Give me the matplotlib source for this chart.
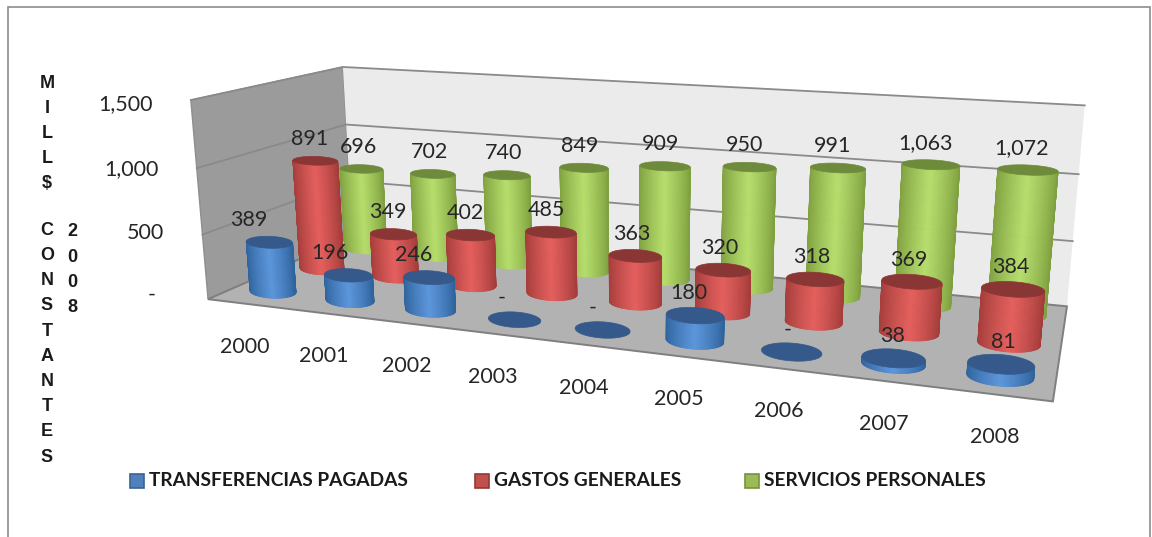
#!/usr/bin/env python3
"""Cylinder chart in 3D perspective, drawn on one pixel-sized 2D axes."""

import matplotlib
matplotlib.use("Agg")
import matplotlib.pyplot as plt
import numpy as np
from matplotlib.colors import to_rgb
from matplotlib.patches import Polygon, Rectangle

WIDTH, HEIGHT = 1152, 537

YEARS = ["2000", "2001", "2002", "2003", "2004", "2005", "2006", "2007", "2008"]
TRANSFERENCIAS = [389, 196, 246, 0, 0, 180, 0, 38, 81]
GASTOS = [891, 349, 402, 485, 363, 320, 318, 369, 384]
SERVICIOS = [696, 702, 740, 849, 909, 950, 991, 1063, 1072]
Y_TICKS = [0, 500, 1000, 1500]
Y_TICK_LABELS = ["-", "500", "1,000", "1,500"]
AXIS_TITLE_1 = "MILL$ CONSTANTES"
AXIS_TITLE_2 = "2008"

# (light, edge, top)
BLUE = ("#5c96dc", "#2f639c", "#34598a")
RED = ("#e55f5d", "#a33d3b", "#8a3634")
GREEN = ("#b6de6c", "#7fa040", "#6e8b3c")

# world (category, row, value) -> pixel, panel corners and gridline ends
CALIB = [
    ((0, 0, 0), (208, 297)), ((0, 0, 500), (203, 233)),
    ((0, 0, 1000), (197, 168)), ((0, 0, 1500), (190, 102)),
    ((0, 3, 0), (352, 240)), ((0, 3, 500), (349, 181)),
    ((0, 3, 1000), (347, 123)), ((0, 3, 1500), (343, 66)),
    ((9, 3, 0), (1067, 303)), ((9, 3, 500), (1073, 241)),
    ((9, 3, 1000), (1078, 175)), ((9, 3, 1500), (1085, 106)),
    ((9, 0, 0), (1053, 404)),
]

RX, RY = 0.305, 0.28


def fit_camera(calib):
    rows, rhs = [], []
    for (x, y, z), (u, v) in calib:
        z = z / 500.0
        rows.append([x, y, z, 1, 0, 0, 0, 0, -u * x, -u * y, -u * z])
        rows.append([0, 0, 0, 0, x, y, z, 1, -v * x, -v * y, -v * z])
        rhs += [u, v]
    sol = np.linalg.lstsq(np.array(rows, float), np.array(rhs, float), rcond=None)[0]
    return np.append(sol, 1.0).reshape(3, 4)


CAM = fit_camera(CALIB)


def project(x, y, z):
    x, y, z = np.broadcast_arrays(x, y, np.asarray(z, float) / 500.0)
    w = np.stack([x, y, z, np.ones_like(x)], axis=0).astype(float)
    p = CAM @ w
    return p[0] / p[2], p[1] / p[2]


def ring(cx, cy):
    """World offsets of a ring that looks upright on the page, the way Excel draws it."""
    xvec = np.subtract(project(cx + 0.5, cy, 0), project(cx - 0.5, cy, 0))
    yvec = np.subtract(project(cx, cy + 0.5, 0), project(cx, cy - 0.5, 0))
    jac = np.column_stack([xvec, yvec])
    tilt = 0.3 + 0.4 * cx / 9
    a = np.array([RX * xvec[0], RX * xvec[1] * tilt])
    b = np.array([0.0, RY * yvec[1]])
    t = np.linspace(0, 2 * np.pi, 181)
    offs = np.linalg.solve(jac, np.outer(a, np.cos(t)) + np.outer(b, np.sin(t)))
    return cx + offs[0], cy + offs[1]


def panel(ax, corners, color, z=1, ec="#8f8f8f", lw=1.0):
    pts = np.array([project(*c) for c in corners])
    ax.add_patch(Polygon(pts, closed=True, fc=color, ec=ec, lw=lw, zorder=z))


def cylinder(ax, cx, cy, value, colors, z):
    light, edge, top = colors
    xs, ys = ring(cx, cy)
    bu, bv = project(xs, ys, 0)
    tu, tv = project(xs, ys, value)
    if value > 0:
        i0, i1 = np.argmin(bu[:-1]), np.argmax(bu[:-1])
        a, b = sorted((i0, i1))
        # the near arc is the one holding the lowest pixels
        if bv[(a + b) // 2] > bv[(a + b + 180) // 2 % 180]:
            arc = np.arange(a, b + 1)
        else:
            arc = np.r_[b:180, 0:a + 1]
        lo, hi = bu[i0], bu[i1]
        for k0, k1 in zip(arc[:-1], arc[1:]):
            f = ((bu[k0] + bu[k1]) / 2 - lo) / (hi - lo)
            s = np.clip(1 - abs(f - 0.5) * 2, 0, 1) ** 0.8
            col = np.array(to_rgb(edge)) * (1 - s) + np.array(to_rgb(light)) * s
            quad = [(bu[k0], bv[k0]), (bu[k1], bv[k1]), (tu[k1], tv[k1]), (tu[k0], tv[k0])]
            ax.add_patch(Polygon(quad, closed=True, fc=col, ec=col, lw=0.5, zorder=z))
    ax.add_patch(Polygon(np.c_[tu, tv], closed=True, fc=top, ec=top, lw=0.5, zorder=z + 0.1))


def main():
    plt.rcParams["font.family"] = ["Lato", "DejaVu Sans"]
    fig = plt.figure(figsize=(WIDTH / 100, HEIGHT / 100), dpi=100, facecolor="white")
    ax = fig.add_axes([0, 0, 1, 1])
    ax.set_xlim(0, WIDTH)
    ax.set_ylim(HEIGHT, 0)
    ax.axis("off")

    # outer frame
    ax.add_patch(Rectangle((8, 7), 1142, 560, fc="white", ec="#8c8c8c", lw=1.2, zorder=0))

    n = len(YEARS)
    top = Y_TICKS[-1]
    panel(ax, [(0, 0, 0), (0, 3, 0), (0, 3, top), (0, 0, top)], "#9b9b9b")
    panel(ax, [(0, 3, 0), (n, 3, 0), (n, 3, top), (0, 3, top)], "#ebebeb", ec="none")
    panel(ax, [(0, 0, 0), (n, 0, 0), (n, 3, 0), (0, 3, 0)], "#b2b2b2", z=1.5, ec="#7f7f7f", lw=1.4)

    for v in Y_TICKS[1:]:
        u, w = project([0, 0, n], [0, 3, 3], v)
        ax.plot(u, w, color="#8a8a8a", lw=1.3, zorder=1.2)

    series = [(2.5, SERVICIOS, GREEN), (1.5, GASTOS, RED), (0.5, TRANSFERENCIAS, BLUE)]
    for rank, (row, values, colors) in enumerate(series):
        for i, v in enumerate(values):
            cylinder(ax, i + 0.5, row, v, colors, 2 + rank + i * 0.01)

    # data labels, a little left of the cylinder on the far side of the chart
    for row, values, _ in series:
        for i, v in enumerate(values):
            u, w = project(i + 0.5, row, v)
            drift = {0.5: -21 + 23 * i / 8, 1.5: -6 + 4 * i / 8, 2.5: -3 - 3 * i / 8}[row]
            txt = "-" if v == 0 else f"{v:,}"
            ax.text(u + drift, w - 22, txt, fontsize=15.5, color="#262626",
                    ha="center", va="center", zorder=10)

    for i, year in enumerate(YEARS):
        u, w = project(i + 0.5, 0, 0)
        ax.text(u - 1, w + 43, year, fontsize=15.5, color="#262626",
                ha="center", va="center", zorder=10)

    for v, label in zip(Y_TICKS, Y_TICK_LABELS):
        u, w = project(0, 0, v)
        dx = -52 if v == 0 else -38
        ax.text(u + dx, w - 5 + 9 * v / 1500, label, fontsize=15.5, color="#262626",
                ha="right", va="center", zorder=10)

    for k, ch in enumerate(AXIS_TITLE_1):
        ax.text(47, 83 + k * 25.2 - (k > 5) * 4, ch, family="Liberation Sans", fontsize=13,
                fontweight="bold", ha="center", va="center", color="#1a1a1a")
    for k, ch in enumerate(AXIS_TITLE_2):
        ax.text(72, 232 + k * 25.2, ch, family="Liberation Sans", fontsize=13,
                fontweight="bold", ha="center", va="center", color="#1a1a1a")

    legend = [(130, "TRANSFERENCIAS PAGADAS", "#4f81bd", "#3a6394"),
              (475, "GASTOS GENERALES", "#c0504d", "#953735"),
              (745, "SERVICIOS PERSONALES", "#9bbb59", "#76923c")]
    for x0, label, fc, ec in legend:
        ax.add_patch(Rectangle((x0, 474), 14, 14, fc=fc, ec=ec, lw=1.2, zorder=10))
        ax.text(x0 + 19, 481, label, fontsize=13.8, fontweight="bold", color="#1a1a1a",
                ha="left", va="center", zorder=10)

    fig.savefig("out.png", dpi=100, facecolor="white")
    plt.close(fig)


if __name__ == "__main__":
    main()
